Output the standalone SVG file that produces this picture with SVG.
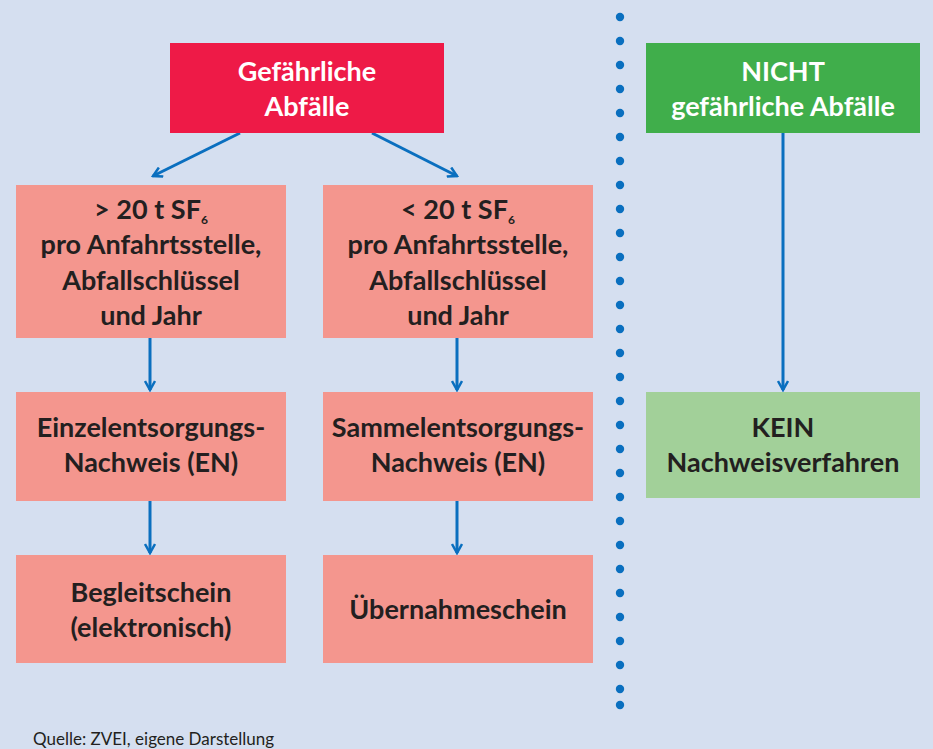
<svg xmlns="http://www.w3.org/2000/svg" width="933" height="749" viewBox="0 0 933 749">
<defs>
<style>
.t{font-family:Lato,"Open Sans","Liberation Sans",sans-serif;font-weight:bold;font-size:27px;text-anchor:middle;fill:#231f20}
.w{fill:#ffffff}
.sub{font-size:12px}
.red{fill:#ee1a47}
.pink{fill:#f4968e}
.green{fill:#40ae4b}
.lgreen{fill:#a2d099}
.c{stroke:#0a6fbf;stroke-width:3;fill:none}
.foot{font-family:Lato,"Open Sans","Liberation Sans",sans-serif;font-size:17px;fill:#231f20}
</style>
<marker id="ah" viewBox="0 0 12 12" refX="10" refY="6" markerWidth="12" markerHeight="12" markerUnits="userSpaceOnUse" orient="auto">
<path d="M1,1 L10,6 L1,11" fill="none" stroke="#0a6fbf" stroke-width="2.5"/>
</marker>
</defs>
<rect width="933" height="749" fill="#d5dff0"/>
<g id="connectors">
<line class="c" x1="240" y1="133" x2="153" y2="176" marker-end="url(#ah)"/>
<line class="c" x1="372" y1="133" x2="457" y2="176" marker-end="url(#ah)"/>
<line class="c" x1="150" y1="338" x2="150" y2="390" marker-end="url(#ah)"/>
<line class="c" x1="457" y1="338" x2="457" y2="390" marker-end="url(#ah)"/>
<line class="c" x1="150" y1="501" x2="150" y2="553" marker-end="url(#ah)"/>
<line class="c" x1="457" y1="501" x2="457" y2="553" marker-end="url(#ah)"/>
<line class="c" x1="783" y1="133" x2="783" y2="390" marker-end="url(#ah)"/>
</g>
<g id="divider" fill="#0a6fbf">
<circle cx="620" cy="17" r="4.2"/><circle cx="620" cy="41" r="4.2"/><circle cx="620" cy="65" r="4.2"/><circle cx="620" cy="89" r="4.2"/><circle cx="620" cy="113" r="4.2"/><circle cx="620" cy="137" r="4.2"/><circle cx="620" cy="161" r="4.2"/><circle cx="620" cy="185" r="4.2"/><circle cx="620" cy="209" r="4.2"/><circle cx="620" cy="233" r="4.2"/><circle cx="620" cy="257" r="4.2"/><circle cx="620" cy="281" r="4.2"/><circle cx="620" cy="305" r="4.2"/><circle cx="620" cy="329" r="4.2"/><circle cx="620" cy="353" r="4.2"/><circle cx="620" cy="377" r="4.2"/><circle cx="620" cy="401" r="4.2"/><circle cx="620" cy="425" r="4.2"/><circle cx="620" cy="449" r="4.2"/><circle cx="620" cy="473" r="4.2"/><circle cx="620" cy="497" r="4.2"/><circle cx="620" cy="521" r="4.2"/><circle cx="620" cy="545" r="4.2"/><circle cx="620" cy="569" r="4.2"/><circle cx="620" cy="593" r="4.2"/><circle cx="620" cy="617" r="4.2"/><circle cx="620" cy="641" r="4.2"/><circle cx="620" cy="665" r="4.2"/><circle cx="620" cy="689" r="4.2"/><circle cx="620" cy="705" r="4.2"/>
</g>
<g id="gefaehrlich">
<rect class="red" x="170" y="43" width="274" height="90"/>
<text class="t w" x="307" y="81">Gefährliche</text>
<text class="t w" x="307" y="116">Abfälle</text>
</g>
<g id="gt20">
<rect class="pink" x="16" y="185" width="270" height="153"/>
<text class="t" x="151" y="219">&gt; 20 t SF<tspan class="sub" dy="5">6</tspan></text>
<text class="t" x="151" y="254">pro Anfahrtsstelle,</text>
<text class="t" x="151" y="290">Abfallschlüssel</text>
<text class="t" x="151" y="325">und Jahr</text>
</g>
<g id="lt20">
<rect class="pink" x="323" y="185" width="270" height="153"/>
<text class="t" x="458" y="219">&lt; 20 t SF<tspan class="sub" dy="5">6</tspan></text>
<text class="t" x="458" y="254">pro Anfahrtsstelle,</text>
<text class="t" x="458" y="290">Abfallschlüssel</text>
<text class="t" x="458" y="325">und Jahr</text>
</g>
<g id="einzel">
<rect class="pink" x="16" y="392" width="270" height="109"/>
<text class="t" x="151" y="437">Einzelentsorgungs-</text>
<text class="t" x="151" y="472">Nachweis (EN)</text>
</g>
<g id="sammel">
<rect class="pink" x="323" y="392" width="270" height="109"/>
<text class="t" x="458" y="437">Sammelentsorgungs-</text>
<text class="t" x="458" y="472">Nachweis (EN)</text>
</g>
<g id="begleit">
<rect class="pink" x="16" y="555" width="270" height="108"/>
<text class="t" x="151" y="602">Begleitschein</text>
<text class="t" x="151" y="637">(elektronisch)</text>
</g>
<g id="uebernahme">
<rect class="pink" x="323" y="555" width="270" height="108"/>
<text class="t" x="458" y="619">Übernahmeschein</text>
</g>
<g id="nicht">
<rect class="green" x="646" y="43" width="274" height="90"/>
<text class="t w" x="783" y="81">NICHT</text>
<text class="t w" x="783" y="116">gefährliche Abfälle</text>
</g>
<g id="kein">
<rect class="lgreen" x="646" y="392" width="274" height="106"/>
<text class="t" x="783" y="437">KEIN</text>
<text class="t" x="783" y="472">Nachweisverfahren</text>
</g>
<text class="foot" x="33" y="745">Quelle: ZVEI, eigene Darstellung</text>
</svg>
